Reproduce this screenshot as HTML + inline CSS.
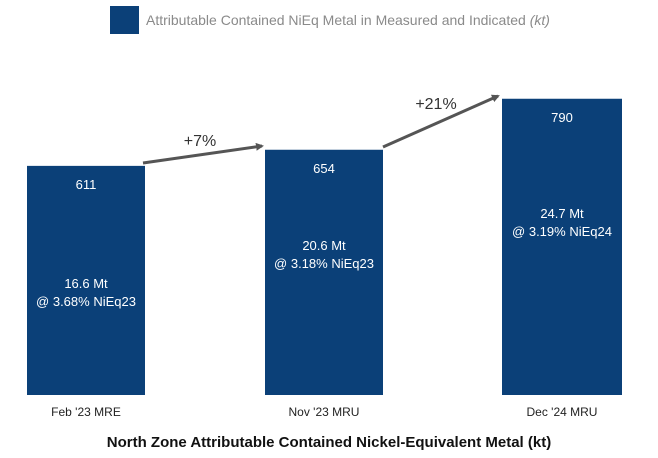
<!DOCTYPE html>
<html><head><meta charset="utf-8"><style>
body{margin:0;background:#fff;font-family:"Liberation Sans",sans-serif}
svg{display:block}
</style></head><body>
<svg id="chart" width="658" height="458">
<rect x="110" y="6" width="29" height="28" fill="#0b4078"/>
<text x="146" y="25" font-size="14" fill="#8a8a8a">Attributable Contained NiEq Metal in Measured and  Indicated <tspan font-style="italic">(kt)</tspan></text>
<defs><marker id="ah" markerWidth="8" markerHeight="8" refX="6" refY="4" orient="auto" markerUnits="userSpaceOnUse"><path d="M0,0 L8,4 L0,8 z" fill="#555"/></marker></defs>
<line x1="143" y1="163" x2="262" y2="146" stroke="#555" stroke-width="3" marker-end="url(#ah)"/>
<text x="200" y="146" font-size="16" fill="#333" text-anchor="middle">+7%</text>
<line x1="383" y1="147" x2="498" y2="96" stroke="#555" stroke-width="3" marker-end="url(#ah)"/>
<text x="436" y="109" font-size="16" fill="#333" text-anchor="middle">+21%</text>
<g id="bars"></g>
<text x="329" y="447" font-size="15" font-weight="bold" fill="#111" text-anchor="middle">North Zone Attributable Contained Nickel-Equivalent Metal (kt)</text>
</svg>
<script>
const categories=["Feb '23 MRE","Nov '23 MRU","Dec '24 MRU"];
const values=[611,654,790];
const tonnage=["16.6 Mt","20.6 Mt","24.7 Mt"];
const grades=["@ 3.68% NiEq23","@ 3.18% NiEq23","@ 3.19% NiEq24"];
const base=395, k=0.375;
const y=v=>base-v*k;
const xs=[27,265,502], w=[118,118,120];
const innerY=[288,250,218];
const x=i=>xs[i];
const g=document.getElementById('bars');
const NS='http://www.w3.org/2000/svg';
function t(txt,cx,cy,size,fill){const e=document.createElementNS(NS,'text');e.setAttribute('x',cx);e.setAttribute('y',cy);e.setAttribute('font-size',size);e.setAttribute('fill',fill);e.setAttribute('text-anchor','middle');e.textContent=txt;g.appendChild(e);return e;}
categories.forEach((c,i)=>{
 const r=document.createElementNS(NS,'rect');
 r.setAttribute('x',x(i));r.setAttribute('y',y(values[i]));r.setAttribute('width',w[i]);r.setAttribute('height',base-y(values[i]));r.setAttribute('fill','#0b4078');
 
 
 g.appendChild(r);
 const cx=x(i)+w[i]/2;
 const vl=t(String(values[i]),cx,y(values[i])+23,13,'#fff');
 
 
 const a=t(tonnage[i],cx,innerY[i],13,'#fff');
 
 
 const b=t(grades[i],cx,innerY[i]+18,13,'#fff');
 
 
 const cl=t(c,cx,416,12,'#222');
 
 
});
</script>
</body></html>
